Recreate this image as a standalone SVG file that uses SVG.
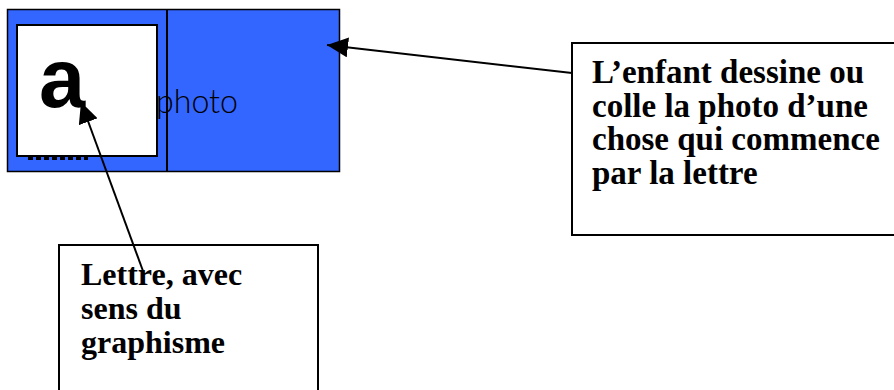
<svg xmlns="http://www.w3.org/2000/svg" width="894" height="390" viewBox="0 0 894 390">
<style>
.box{fill:#fff;stroke:#000;stroke-width:2}
.lbl{font-family:"Liberation Serif","Times New Roman",serif;font-weight:bold;fill:#000}
.conn{stroke:#000;stroke-width:2;fill:none}
</style>
<defs>
<marker id="ah" markerUnits="userSpaceOnUse" markerWidth="22" markerHeight="20" refX="21" refY="10" orient="auto">
<path d="M0,0 L21,10 L0,20 Z" fill="#000"/>
</marker>
</defs>
<rect width="894" height="390" fill="#fff"/>
<g id="card">
<rect x="7.5" y="9.5" width="332" height="162" fill="#3366ff" stroke="#000" stroke-width="1.5"/>
<line x1="167" y1="9.5" x2="167" y2="171.5" stroke="#000" stroke-width="2"/>
<rect x="17" y="25" width="140" height="131" fill="#fff" stroke="#000" stroke-width="2"/>
<line x1="28" y1="158.5" x2="88" y2="158.5" stroke="#000" stroke-width="3" stroke-dasharray="5 3"/>
<text x="39" y="107" font-family="Liberation Sans, Arial, sans-serif" font-weight="bold" font-size="83">a</text>
<text x="156" y="113" font-family="Lato, Liberation Sans, sans-serif" font-weight="300" font-size="34" textLength="82" lengthAdjust="spacingAndGlyphs">photo</text>
</g>
<g id="note-right">
<rect class="box" x="572" y="43" width="330" height="192"/>
<text class="lbl" font-size="33"><tspan x="592" y="83">L’enfant dessine ou</tspan><tspan x="592" y="117">colle la photo d’une</tspan><tspan x="592" y="150">chose qui commence</tspan><tspan x="592" y="184">par la lettre</tspan></text>
</g>
<g id="note-left">
<rect class="box" x="59" y="245" width="259" height="160"/>
<text class="lbl" font-size="32"><tspan x="81" y="285">Lettre, avec</tspan><tspan x="81" y="319">sens du</tspan><tspan x="81" y="353">graphisme</tspan></text>
</g>
<g id="connectors">
<line class="conn" x1="572" y1="73" x2="327" y2="45" marker-end="url(#ah)"/>
<line class="conn" x1="143" y1="271" x2="81" y2="102" marker-end="url(#ah)"/>
</g>
</svg>
